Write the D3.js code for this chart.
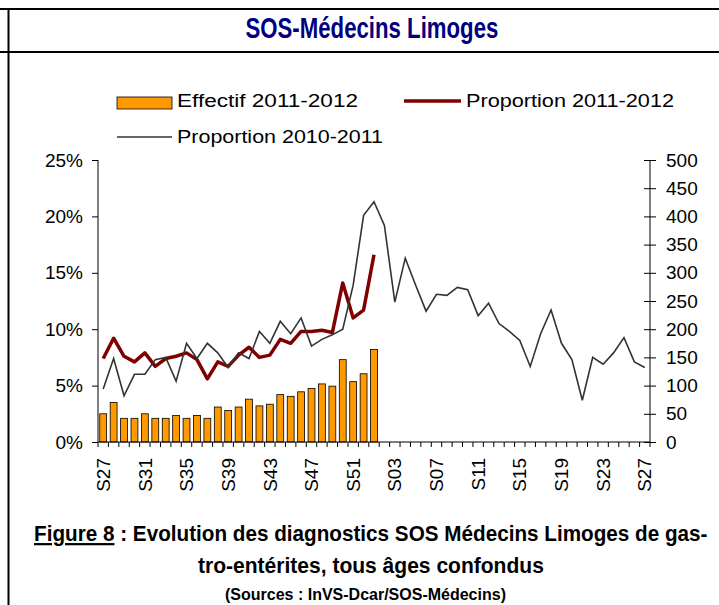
<!DOCTYPE html>
<html>
<head>
<meta charset="utf-8">
<script src="https://cdn.jsdelivr.net/npm/d3@7"></script>
<style>
  body { margin: 0; background: #fff; }
  svg { display: block; }
  .axis text { font-family: "Liberation Sans", Arial, sans-serif; fill: #000; }
  .axis path, .axis line { stroke: #000; }
  .narrow { font-family: "Liberation Sans Narrow", "Arial Narrow", "Liberation Sans", sans-serif; font-weight: bold; }
</style>
</head>
<body>
<svg id="chart"></svg>
<script>
const weeks = [
  'S27', 'S28', 'S29', 'S30', 'S31', 'S32', 'S33', 'S34', 'S35', 'S36', 'S37', 'S38', 'S39',
  'S40', 'S41', 'S42', 'S43', 'S44', 'S45', 'S46', 'S47', 'S48', 'S49', 'S50', 'S51', 'S52',
  'S01', 'S02', 'S03', 'S04', 'S05', 'S06', 'S07', 'S08', 'S09', 'S10', 'S11', 'S12', 'S13',
  'S14', 'S15', 'S16', 'S17', 'S18', 'S19', 'S20', 'S21', 'S22', 'S23', 'S24', 'S25', 'S26', 'S27',
];
// Effectif 2011-2012 (right axis, number of diagnostics)
const effectif2011 = [
  50, 70, 42, 42, 50, 42, 42, 47, 42, 47, 42, 62, 56, 62, 76, 64, 67, 84, 81, 89, 95, 103, 99,
  146, 107, 121, 164,
];
// Proportion 2011-2012 (left axis, %)
const proportion2011 = [
  7.4, 9.2, 7.6, 7.1, 7.9, 6.7, 7.4, 7.6, 7.9, 7.3, 5.6, 7.1, 6.7, 7.7, 8.4, 7.5, 7.7, 9.1, 8.75,
  9.8, 9.8, 9.9, 9.7, 14.1, 11.0, 11.7, 16.6,
];
// Proportion 2010-2011 (left axis, %)
const proportion2010 = [
  4.7, 7.4, 4.1, 6.0, 6.0, 7.3, 7.5, 5.4, 8.75, 7.4, 8.75, 7.9, 6.6, 7.9, 7.4, 9.8, 8.75, 10.7,
  9.6, 11.0, 8.5, 9.1, 9.5, 10.0, 13.9, 20.1, 21.3, 19.2, 12.4, 16.3, 13.9, 11.6, 13.1, 13.0,
  13.7, 13.5, 11.2, 12.3, 10.5, 9.8, 9.0, 6.7, 9.6, 11.7, 8.75, 7.3, 3.7, 7.5, 6.9, 7.9, 9.25,
  7.1, 6.6,
];
const leftTicks = [0, 5, 10, 15, 20, 25];
const rightTicks = [0, 50, 100, 150, 200, 250, 300, 350, 400, 450, 500];
const labelEvery = 4;

const width = 719;
const height = 605;
const margin = { top: 160, right: 69, bottom: 163, left: 98 };

const svg = d3.select('#chart').attr('width', width).attr('height', height);

// squeeze a bold text horizontally to a given width (the narrow face is not available)
function narrowText(x0, y0, size, w, anchor, fill, build) {
  const g = svg.append('g');
  const t = g.append('text').attr('class', 'narrow').attr('font-size', size).attr('fill', fill);
  build(t);
  const natural = t.node().getComputedTextLength();
  const sx = Math.min(1, w / natural);
  const left = anchor === 'middle' ? x0 - w / 2 : x0;
  g.attr('transform', `translate(${left},${y0}) scale(${sx},1)`);
  return g;
}

// page frame
svg.append('line').attr('x1', 0).attr('x2', width).attr('y1', 9).attr('y2', 9)
  .attr('stroke', '#000').attr('stroke-width', 2);
svg.append('line').attr('x1', 0).attr('x2', width).attr('y1', 52).attr('y2', 52)
  .attr('stroke', '#000').attr('stroke-width', 2);
svg.append('line').attr('x1', 8.5).attr('x2', 8.5).attr('y1', 8).attr('y2', height)
  .attr('stroke', '#000').attr('stroke-width', 2);

narrowText(372, 38, 29, 253, 'middle', '#000080', (t) => t.text('SOS-Médecins Limoges'));

const x = d3.scaleBand()
  .domain(d3.range(weeks.length))
  .range([margin.left, width - margin.right]);
const yPct = d3.scaleLinear().domain([0, 25]).range([height - margin.bottom, margin.top]);
const yCount = d3.scaleLinear().domain([0, 500]).range([height - margin.bottom, margin.top]);
const cx = (i) => x(i) + x.bandwidth() / 2;
const barWidth = x.bandwidth() * 0.66;

// bars
svg.append('g')
  .selectAll('rect')
  .data(effectif2011)
  .enter()
  .append('rect')
  .attr('x', (_, i) => cx(i) - barWidth / 2)
  .attr('y', (d) => yCount(d))
  .attr('width', barWidth)
  .attr('height', (d) => yCount(0) - yCount(d))
  .attr('fill', '#ff9900')
  .attr('stroke', '#000')
  .attr('stroke-width', 0.8);

const line = d3.line()
  .x((_, i) => cx(i))
  .y((d) => yPct(d));

svg.append('path').datum(proportion2011)
  .attr('fill', 'none').attr('stroke', '#800000').attr('stroke-width', 3.5)
  .attr('stroke-linejoin', 'round').attr('d', line);

svg.append('path').datum(proportion2010)
  .attr('fill', 'none').attr('stroke', '#333').attr('stroke-width', 1.6)
  .attr('d', line);

// left axis
const axisL = svg.append('g').attr('class', 'axis')
  .attr('transform', `translate(${margin.left},0)`)
  .call(d3.axisLeft(yPct).tickValues(leftTicks).tickFormat((d) => d + '%').tickSize(6).tickPadding(9));
axisL.select('.domain').attr('d', `M0,${yPct(0)}V${yPct(25)}`);
axisL.selectAll('text').attr('font-size', 19);

// right axis with crossing ticks
const axisR = svg.append('g').attr('class', 'axis')
  .attr('transform', `translate(${width - margin.right},0)`)
  .call(d3.axisRight(yCount).tickValues(rightTicks).tickSize(6).tickPadding(10));
axisR.select('.domain').attr('d', `M0,${yCount(0)}V${yCount(500)}`);
axisR.selectAll('.tick line').attr('x1', -6);
axisR.selectAll('text').attr('font-size', 19);

// bottom axis: ticks between categories
const xAxis = svg.append('g').attr('class', 'axis')
  .attr('transform', `translate(0,${height - margin.bottom})`);
xAxis.append('line')
  .attr('x1', margin.left).attr('x2', width - margin.right)
  .attr('stroke', '#000');
xAxis.selectAll('line.tk')
  .data(d3.range(weeks.length + 1))
  .enter()
  .append('line')
  .attr('class', 'tk')
  .attr('x1', (i) => (i < weeks.length ? x(i) : x(i - 1) + x.bandwidth()))
  .attr('x2', (i) => (i < weeks.length ? x(i) : x(i - 1) + x.bandwidth()))
  .attr('y1', 0).attr('y2', 5)
  .attr('stroke', '#000');
xAxis.selectAll('text')
  .data(weeks.map((w, i) => ({ w, i })).filter((d) => d.i % labelEvery === 0))
  .enter()
  .append('text')
  .attr('transform', (d) => `translate(${cx(d.i)},16) rotate(-90)`)
  .attr('text-anchor', 'end')
  .attr('dy', '0.35em')
  .attr('font-size', 19)
  .text((d) => d.w);

// legend
const legend = svg.append('g').attr('font-family', '"Liberation Sans", Arial, sans-serif').attr('font-size', 18);
legend.append('rect').attr('x', 117).attr('y', 97).attr('width', 55).attr('height', 12)
  .attr('fill', '#ff9900').attr('stroke', '#000').attr('stroke-width', 0.8);
legend.append('text').attr('x', 177).attr('y', 107)
  .attr('textLength', 181).attr('lengthAdjust', 'spacingAndGlyphs').text('Effectif 2011-2012');
legend.append('line').attr('x1', 404).attr('x2', 461).attr('y1', 101).attr('y2', 101)
  .attr('stroke', '#800000').attr('stroke-width', 3.5);
legend.append('text').attr('x', 466).attr('y', 107)
  .attr('textLength', 208).attr('lengthAdjust', 'spacingAndGlyphs').text('Proportion 2011-2012');
legend.append('line').attr('x1', 117).attr('x2', 172).attr('y1', 137).attr('y2', 137)
  .attr('stroke', '#333').attr('stroke-width', 1.6);
legend.append('text').attr('x', 177).attr('y', 143)
  .attr('textLength', 206).attr('lengthAdjust', 'spacingAndGlyphs').text('Proportion 2010-2011');

// caption
narrowText(34, 541, 22, 674, 'start', '#000', (t) => {
  t.append('tspan').attr('text-decoration', 'underline').text('Figure 8');
  t.append('tspan').text(' : Evolution des diagnostics SOS Médecins Limoges de gas-');
});
narrowText(371, 573, 22, 346, 'middle', '#000', (t) => t.text('tro-entérites, tous âges confondus'));
narrowText(369, 600, 16, 288, 'middle', '#000', (t) => t.text('(Sources : InVS-Dcar/SOS-Médecins)'));
</script>
</body>
</html>
